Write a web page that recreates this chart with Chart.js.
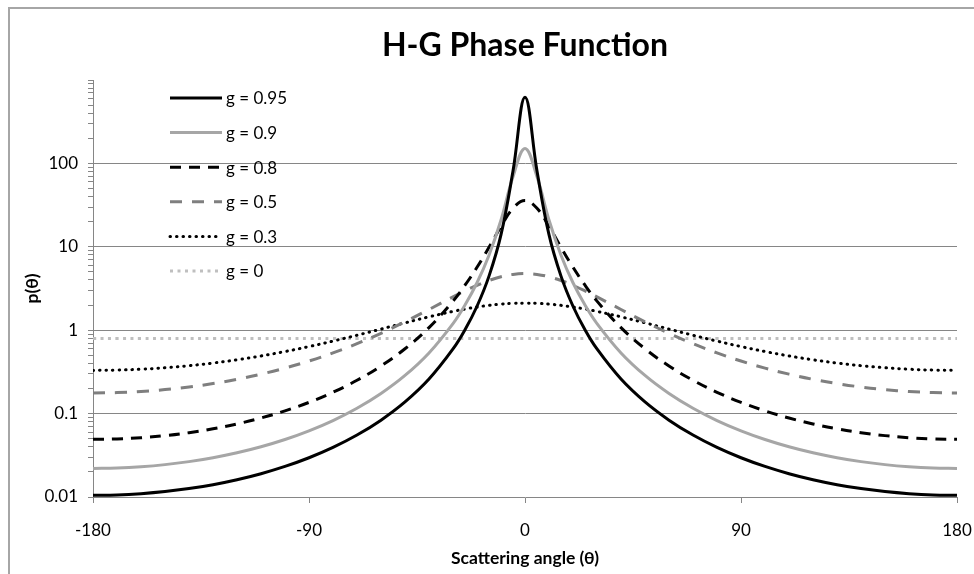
<!DOCTYPE html>
<html>
<head>
<meta charset="utf-8">
<script src="https://cdn.jsdelivr.net/npm/chart.js@4.4.1/dist/chart.umd.min.js"></script>
<style>
	html, body { margin: 0; padding: 0; background: #fff; }
	#wrap { width: 974px; height: 574px; position: relative; }
</style>
</head>
<body>
<div id="wrap"><canvas id="chart"></canvas></div>
<script>
// scattering angles (deg)
const angles = [-180, -170, -160, -150, -140, -130, -120, -110, -100, -90, -80, -70, -60, -50, -40,
	-30, -25, -20, -15, -10, -5, 0, 5, 10, 15, 20, 25, 30,
	40, 50, 60, 70, 80, 90, 100, 110, 120, 130, 140, 150, 160, 170, 180];

const g095 = [0.01046, 0.01058, 0.01096, 0.01161, 0.01261, 0.01405, 0.01611, 0.01903, 0.02326, 0.02957, 0.03935, 0.05534, 0.08347, 0.138, 0.2596,
	0.5954, 1.012, 1.937, 4.45, 13.97, 80.84, 620.7, 80.84, 13.97, 4.45, 1.937, 1.012, 0.5954,
	0.2596, 0.138, 0.08347, 0.05534, 0.03935, 0.02957, 0.02326, 0.01903, 0.01611, 0.01405, 0.01261, 0.01161, 0.01096, 0.01058, 0.01046];

const g090 = [0.02204, 0.0223, 0.02308, 0.02445, 0.02655, 0.02959, 0.03389, 0.04002, 0.0489, 0.06209, 0.08252, 0.1158, 0.1742, 0.2866, 0.5342,
	1.201, 2.003, 3.704, 7.936, 20.95, 69.13, 151.2, 69.13, 20.95, 7.936, 3.704, 2.003, 1.201,
	0.5342, 0.2866, 0.1742, 0.1158, 0.08252, 0.06209, 0.0489, 0.04002, 0.03389, 0.02959, 0.02655, 0.02445, 0.02308, 0.0223, 0.02204];

const g080 = [0.04912, 0.04968, 0.0514, 0.05444, 0.05906, 0.06572, 0.07517, 0.08857, 0.1079, 0.1364, 0.1802, 0.2508, 0.3721, 0.5991, 1.074,
	2.233, 3.462, 5.681, 9.859, 17.57, 28.95, 35.81, 28.95, 17.57, 9.859, 5.681, 3.462, 2.233,
	1.074, 0.5991, 0.3721, 0.2508, 0.1802, 0.1364, 0.1079, 0.08857, 0.07517, 0.06572, 0.05906, 0.05444, 0.0514, 0.04968, 0.04912];

const g050 = [0.1768, 0.1787, 0.1842, 0.1939, 0.2085, 0.2292, 0.2578, 0.2971, 0.3514, 0.4271, 0.5345, 0.6898, 0.9189, 1.261, 1.773,
	2.509, 2.962, 3.453, 3.942, 4.37, 4.668, 4.775, 4.668, 4.37, 3.942, 3.453, 2.962, 2.509,
	1.773, 1.261, 0.9189, 0.6898, 0.5345, 0.4271, 0.3514, 0.2971, 0.2578, 0.2292, 0.2085, 0.1939, 0.1842, 0.1787, 0.1768];

const g030 = [0.3296, 0.3323, 0.3405, 0.3546, 0.3754, 0.404, 0.4419, 0.4913, 0.5549, 0.6364, 0.7399, 0.8701, 1.031, 1.225, 1.447,
	1.681, 1.794, 1.897, 1.986, 2.054, 2.097, 2.111, 2.097, 2.054, 1.986, 1.897, 1.794, 1.681,
	1.447, 1.225, 1.031, 0.8701, 0.7399, 0.6364, 0.5549, 0.4913, 0.4419, 0.404, 0.3754, 0.3546, 0.3405, 0.3323, 0.3296];

const g000 = [0.796, 0.796, 0.796, 0.796, 0.796, 0.796, 0.796, 0.796, 0.796, 0.796, 0.796, 0.796, 0.796, 0.796, 0.796,
	0.796, 0.796, 0.796, 0.796, 0.796, 0.796, 0.796, 0.796, 0.796, 0.796, 0.796, 0.796, 0.796,
	0.796, 0.796, 0.796, 0.796, 0.796, 0.796, 0.796, 0.796, 0.796, 0.796, 0.796, 0.796, 0.796, 0.796, 0.796];

const seriesNames = ["g = 0.95", "g = 0.9", "g = 0.8", "g = 0.5", "g = 0.3", "g = 0"];
const xTicks = [-180, -90, 0, 90, 180];
const yMajor = [0.01, 0.1, 1, 10, 100, 1000];
const yLabels = ["0.01", "0.1", "1", "10", "100", ""];
const minorSteps = [2, 3, 4, 5, 6, 7, 8, 9];
const chartTitle = "H-G Phase Function";

const FONT = "Lato, 'Liberation Sans', sans-serif";
const AXIS_GRAY = "#868686";

const toPoints = (ys) => ys.map((y, i) => ({ x: angles[i], y: y }));

const styles = [
	{ color: "#000000", dash: [], width: 3, cap: "butt" },
	{ color: "#A6A6A6", dash: [], width: 3, cap: "butt" },
	{ color: "#000000", dash: [11, 8], width: 3, cap: "butt" },
	{ color: "#7F7F7F", dash: [12, 10], width: 3, cap: "butt" },
	{ color: "#000000", dash: [0.5, 6], width: 3, cap: "round" },
	{ color: "#BFBFBF", dash: [3, 4.5], width: 3, cap: "butt" },
];

const datasets = [g095, g090, g080, g050, g030, g000].map((ys, i) => ({
	label: seriesNames[i],
	data: toPoints(ys),
	borderColor: styles[i].color,
	borderDash: styles[i].dash,
	borderWidth: styles[i].width,
	borderCapStyle: styles[i].cap,
	pointRadius: 0,
	fill: false,
	tension: 0.4,
}));

// y ticks: every 1..9 x decade, labels only on the decades
let yTickValues = [];
yMajor.forEach((v, k) => {
	yTickValues.push(v);
	if (k < yMajor.length - 1) minorSteps.forEach((m) => yTickValues.push(Number((m * v).toPrecision(3))));
});
const isMajor = (v) => yMajor.indexOf(v) !== -1;

// outer frame + white background
const framePlugin = {
	id: "frame",
	beforeDraw(chart) {
		const ctx = chart.ctx;
		ctx.save();
		ctx.fillStyle = "#fff";
		ctx.fillRect(0, 0, chart.width, chart.height);
		ctx.strokeStyle = "#A6A6A6";
		ctx.lineWidth = 2;
		ctx.strokeRect(9, 8, chart.width + 20, chart.height + 20);
		ctx.restore();
	},
	// title centred over the plot area, not the canvas
	afterDraw(chart) {
		const ctx = chart.ctx;
		const area = chart.chartArea;
		ctx.save();
		ctx.fillStyle = "#000";
		ctx.font = "bold 32px " + FONT;
		ctx.textAlign = "center";
		ctx.textBaseline = "alphabetic";
		ctx.fillText(chartTitle, (area.left + area.right) / 2, 56);
		ctx.restore();
	},
};

// legend sits inside the plot, top-left, one entry per row
const insideLegend = {
	id: "insideLegend",
	afterDatasetsDraw(chart) {
		const ctx = chart.ctx;
		const x0 = chart.chartArea.left + 77;
		const y0 = chart.chartArea.top + 18;
		ctx.save();
		chart.data.datasets.forEach((ds, i) => {
			const y = y0 + i * 34.6;
			ctx.beginPath();
			ctx.strokeStyle = ds.borderColor;
			ctx.lineWidth = ds.borderWidth;
			ctx.lineCap = ds.borderCapStyle;
			ctx.setLineDash(ds.borderDash);
			ctx.moveTo(x0, y);
			ctx.lineTo(x0 + 52, y);
			ctx.stroke();
			ctx.setLineDash([]);
			ctx.fillStyle = "#000";
			ctx.font = "17px " + FONT;
			ctx.textAlign = "left";
			ctx.textBaseline = "middle";
			ctx.fillText(ds.label, x0 + 56, y + 1);
		});
		ctx.restore();
	},
};

new Chart(document.getElementById("chart"), {
	type: "line",
	data: { datasets: datasets },
	plugins: [framePlugin, insideLegend],
	options: {
		responsive: true,
		maintainAspectRatio: false,
		animation: false,
		layout: { padding: { left: 0, right: 17, top: 80, bottom: 0 } },
		plugins: {
			legend: { display: false },
			tooltip: { enabled: false },
			title: { display: false },
		},
		scales: {
			x: {
				type: "linear",
				min: -180,
				max: 180,
				afterBuildTicks: (scale) => {
					scale.ticks = xTicks.map((v) => ({ value: v }));
				},
				afterFit: (scale) => {
					scale.height = 77;
					scale.paddingLeft = 0;
					scale.paddingRight = 0;
				},
				ticks: { color: "#000", font: { family: FONT, size: 17 }, padding: 17, maxRotation: 0 },
				grid: { drawOnChartArea: false, drawTicks: true, tickLength: 6, tickColor: AXIS_GRAY },
				border: { display: true, color: AXIS_GRAY, width: 1 },
				title: {
					display: true,
					text: "Scattering angle (θ)",
					color: "#000",
					font: { family: FONT, size: 17.5, weight: "bold", lineHeight: 1.2 },
					padding: { top: 0, bottom: 5 },
				},
			},
			y: {
				type: "logarithmic",
				min: 0.01,
				max: 1000,
				afterBuildTicks: (scale) => {
					scale.ticks = yTickValues.map((v) => ({ value: v }));
				},
				afterFit: (scale) => {
					scale.width = 93;
					scale.paddingTop = 0;
					scale.paddingBottom = 0;
				},
				ticks: {
					color: "#000",
					font: { family: FONT, size: 17 },
					padding: 10,
					autoSkip: false,
					callback: (v) => {
						const k = yMajor.indexOf(v);
						return k === -1 ? "" : yLabels[k];
					},
				},
				grid: {
					color: (c) => {
						const v = c.tick ? c.tick.value : null;
						return v !== null && isMajor(v) && v !== 1000 && v !== 0.01 ? AXIS_GRAY : "rgba(0,0,0,0)";
					},
					tickColor: AXIS_GRAY,
					tickLength: 5,
					lineWidth: 1,
				},
				border: { display: true, color: AXIS_GRAY, width: 1 },
				title: {
					display: true,
					text: "p(θ)",
					color: "#000",
					font: { family: FONT, size: 17.5, weight: "bold", lineHeight: 1.2 },
					padding: { top: 22, bottom: 0 },
				},
			},
		},
	},
});
</script>
</body>
</html>
